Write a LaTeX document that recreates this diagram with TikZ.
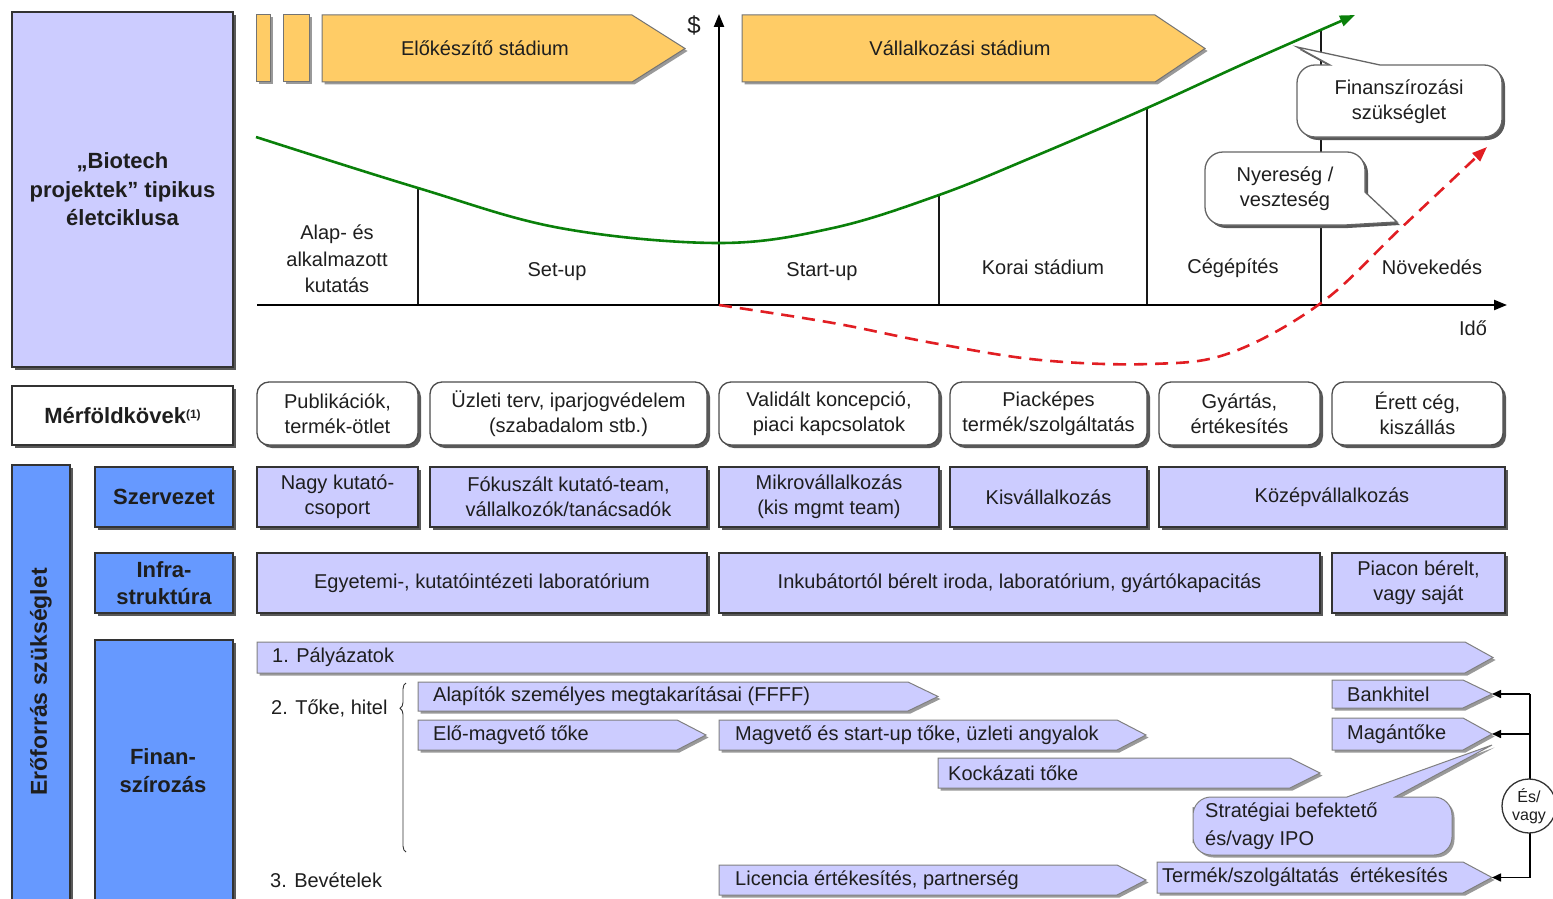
\documentclass[tikz,border=0pt]{standalone}
\usepackage{fontspec}
\setmainfont{Liberation Sans}
\usetikzlibrary{shadows,arrows.meta,decorations.pathreplacing,shapes.geometric}
\definecolor{lav}{RGB}{204,204,255}
\definecolor{blu}{RGB}{102,153,255}
\definecolor{org}{RGB}{255,204,102}
\definecolor{grn}{RGB}{10,128,10}
\definecolor{rd}{RGB}{225,30,35}
\definecolor{ink}{RGB}{30,30,30}
% box from (x1,y1) to (x2,y2): style, name, x1, y1, x2, y2, text
\newcommand\bx[7]{\node[#1,minimum width={(#5-#3)*1pt},minimum height={(#6-#4)*1pt}] (#2) at ({(#3+#5)/2},{(#4+#6)/2}) {#7};}
% finance arrow: name, x1, y1, x2, y2, shoulder, padding, text
\newcommand\farrow[8]{%
  \path[finarrow] (#2,#3) -- (#6,#3) -- (#4,{(#3+#5)/2}) -- (#6,#5) -- (#2,#5) -- cycle;
  \node[txt,anchor=west] (#1) at ({#2+#7},{(#3+#5)/2}) {#8};
  \coordinate (#1tip) at (#4,{(#3+#5)/2});}
\begin{document}
\begin{tikzpicture}[x=1pt,y=-1pt,
  txt/.style={font=\fontsize{20}{25}\selectfont,text=ink,align=center,inner sep=0pt},
  shad/.style={drop shadow={shadow xshift=3pt,shadow yshift=-3pt,fill=black!65,opacity=1}},
  lshad/.style={drop shadow={shadow xshift=2.5pt,shadow yshift=-2.5pt,fill=black!40,opacity=1}},
  lavbox/.style={txt,fill=lav,draw=black!80,line width=1.3pt,shad},
  bluebox/.style={lavbox,fill=blu,font=\bfseries\fontsize{22}{27}\selectfont},
  whitebox/.style={lavbox,fill=white,font=\bfseries\fontsize{22}{27}\selectfont},
  mile/.style={txt,fill=white,draw=black!70,line width=1.3pt,rounded corners=12pt,shad},
  orangebox/.style={fill=org,draw=black!55,line width=1pt,lshad},
  finarrow/.style={fill=lav,draw=black!50,line width=1pt,lshad},
  callw/.style={fill=white,draw=black!60,line width=1.3pt,shad},
  axis/.style={line width=2.2pt,black,-{Triangle[length=13pt,width=10pt]}},
  divider/.style={line width=2pt,black!90},
]
\useasboundingbox (0,0) rectangle (1553,899);

% ---------- left labels ----------
\bx{lavbox,font=\bfseries\fontsize{22}{28.5}\selectfont}{title}{12}{12}{233}{367}{„Biotech\\projektek” tipikus\\életciklusa}
\bx{whitebox}{merf}{12}{386}{233}{445}{Mérföldkövek\raisebox{5pt}{\fontsize{12}{12}\selectfont(1)}}
\bx{bluebox,font=\bfseries\fontsize{23}{27}\selectfont}{erof}{12}{465}{70}{910}{}
\node[txt,font=\bfseries\fontsize{23}{27}\selectfont,rotate=90] (eroft) at (41,682) {Erőforrás szükséglet};
\bx{bluebox}{szerv}{95}{467}{233}{527}{Szervezet}
\bx{bluebox}{infra}{95}{553}{233}{613}{Infra-\\struktúra}
\bx{bluebox}{finan}{95}{640}{233}{910}{}
\node[txt,font=\bfseries\fontsize{22}{28}\selectfont] (finant) at (163,771) {Finan-\\szírozás};

% ---------- top stage arrows ----------
\path[orangebox] (256,15) rectangle (270,82);
\path[orangebox] (283,15) rectangle (309,82);
\path[orangebox] (322,15) -- (632,15) -- (685,48.5) -- (632,82) -- (322,82) -- cycle;
\node[txt] (elok) at (485,48.5) {Előkészítő stádium};
\path[orangebox] (742,15) -- (1155,15) -- (1205,48.5) -- (1155,82) -- (742,82) -- cycle;
\node[txt] (vall) at (960,48.5) {Vállalkozási stádium};

% ---------- axes ----------
\coordinate (O) at (719,305);
\coordinate (ytop) at (719,14);
\coordinate (xstart) at (257,305);
\coordinate (xend) at (1507,305);
\draw[divider] (418,188) -- (418,305);
\draw[divider] (939,195) -- (939,305);
\draw[divider] (1147,108) -- (1147,305);
\draw[divider] (1321,29) -- (1321,305);
\draw[line width=2.2pt] (xstart) -- (O);
\draw[axis] (O) -- (xend);
\draw[axis] (O) -- (ytop);
\node[txt,font=\fontsize{24}{24}\selectfont] (dollar) at (694,25) {\$};
\node[txt] (ido) at (1473,328) {Idő};

% phase labels
\node[txt,font=\fontsize{20}{26.5}\selectfont] (ph1) at (337,259) {Alap- és\\alkalmazott\\kutatás};
\node[txt] (ph2) at (557,272) {Set-up};
\node[txt] (ph3) at (822,272) {Start-up};
\node[txt] (ph4) at (1043,267) {Korai stádium};
\node[txt] (ph5) at (1233,268) {Cégépítés};
\node[txt] (ph6) at (1432,267) {Növekedés};

% curves
\draw[grn,line width=2.6pt,-{Triangle[length=15pt,width=11pt]}]
  plot[smooth,tension=0.6] coordinates {(256,137) (418,188) (560,228) (719,243) (833,228) (939,195) (1033,157) (1147,108) (1250,61) (1355,15)};
\draw[rd,line width=2.6pt,dash pattern=on 13pt off 8pt,-{Triangle[length=15pt,width=11pt]}]
  plot[smooth,tension=0.6] coordinates {(719,305) (833,323) (933,343) (1040,360) (1150,364) (1230,353) (1321,303) (1400,229) (1487,147)};

% callouts
\path[callw] (1297,100) [rounded corners=18pt] -- (1297,65) [sharp corners] -- (1330,65) -- (1297,47) -- (1380,65) [rounded corners=18pt] -- (1502,65) -- (1502,137) -- (1297,137) -- cycle;
\node[txt] (finsz) at (1399,102) {Finanszírozási\\szükséglet};
\path[callw] (1205,190) [rounded corners=18pt] -- (1205,152) -- (1365,152) [sharp corners] -- (1365,192) -- (1397,222) -- (1345,225) [rounded corners=18pt] -- (1205,225) -- cycle;
\node[txt] (nyer) at (1285,189) {Nyereség /\\veszteség};

% ---------- milestones ----------
\bx{mile}{m1}{257}{382}{418}{445}{Publikációk,\\termék-ötlet}
\bx{mile}{m2}{430}{382}{707}{445}{Üzleti terv, iparjogvédelem\\(szabadalom stb.)}
\bx{mile}{m3}{719}{382}{939}{445}{Validált koncepció,\\piaci kapcsolatok}
\bx{mile}{m4}{950}{382}{1147}{445}{Piacképes\\termék/szolgáltatás}
\bx{mile}{m5}{1159}{382}{1320}{445}{Gyártás,\\értékesítés}
\bx{mile}{m6}{1332}{382}{1503}{445}{Érett cég,\\kiszállás}

% ---------- organisation ----------
\bx{lavbox}{s1}{257}{467}{418}{527}{Nagy kutató-\\csoport}
\bx{lavbox}{s2}{430}{467}{707}{527}{Fókuszált kutató-team,\\vállalkozók/tanácsadók}
\bx{lavbox}{s3}{719}{467}{939}{527}{Mikrovállalkozás\\(kis mgmt team)}
\bx{lavbox}{s4}{950}{467}{1147}{527}{Kisvállalkozás}
\bx{lavbox}{s5}{1159}{467}{1505}{527}{Középvállalkozás}

% ---------- infrastructure ----------
\bx{lavbox}{i1}{257}{553}{707}{613}{Egyetemi-, kutatóintézeti laboratórium}
\bx{lavbox}{i2}{719}{553}{1320}{613}{Inkubátortól bérelt iroda, laboratórium, gyártókapacitás}
\bx{lavbox}{i3}{1332}{553}{1505}{613}{Piacon bérelt,\\vagy saját}

% ---------- financing ----------
\farrow{pal}{257}{642}{1493}{673}{1465}{15}{1. Pályázatok}
\node[txt,anchor=west] (toke) at (271,708) {2. Tőke, hitel};
\draw[decorate,decoration={brace,amplitude=6pt,aspect=0.85},line width=0.9pt,black!80] (406,852) -- (406,683);
\farrow{alap}{418}{682}{938}{711}{908}{15}{Alapítók személyes megtakarításai (FFFF)}
\farrow{elo}{418}{720}{706}{750}{677}{15}{Elő-magvető tőke}
\farrow{mag}{719}{720}{1146}{750}{1117}{16}{Magvető és start-up tőke, üzleti angyalok}
\farrow{kock}{938}{758}{1320}{788}{1290}{10}{Kockázati tőke}
\farrow{bank}{1332}{680}{1492}{708}{1463}{15}{Bankhitel}
\farrow{magan}{1332}{718}{1492}{750}{1463}{15}{Magántőke}
\path[finarrow] (1193,825) [rounded corners=18pt] -- (1193,797) [sharp corners] -- (1347,797) -- (1492,745) -- (1395,797) [rounded corners=18pt] -- (1452,797) -- (1452,855) -- (1193,855) -- cycle;
\node[txt,font=\fontsize{20}{28}\selectfont,align=left,anchor=west] (strat) at (1205,826) {Stratégiai befektető\\és/vagy IPO};
\node[txt,anchor=west] (bev) at (270,880) {3. Bevételek};
\farrow{lic}{719}{865}{1146}{895}{1117}{16}{Licencia értékesítés, partnerség}
\farrow{term}{1157}{862}{1492}{893}{1463}{5}{Termék/szolgáltatás\ \ értékesítés}

% and/or connector
\coordinate (j1) at (1530,694);
\coordinate (j2) at (1530,734);
\coordinate (j3) at (1530,877.5);
\draw[line width=1.6pt] (j1) -- (j3);
\draw[line width=1.6pt,-{Triangle[length=9pt,width=8pt]}] (j1) -- (banktip);
\draw[line width=1.6pt,-{Triangle[length=9pt,width=8pt]}] (j2) -- (magantip);
\draw[line width=1.6pt,-{Triangle[length=9pt,width=8pt]}] (j3) -- (termtip);
\node[circle,draw=black!80,line width=1.3pt,fill=white,minimum size=54pt,inner sep=0pt,align=center,font=\fontsize{16}{18}\selectfont,text=ink] (esv) at (1529,806) {És/\\vagy};
\end{tikzpicture}
\end{document}
